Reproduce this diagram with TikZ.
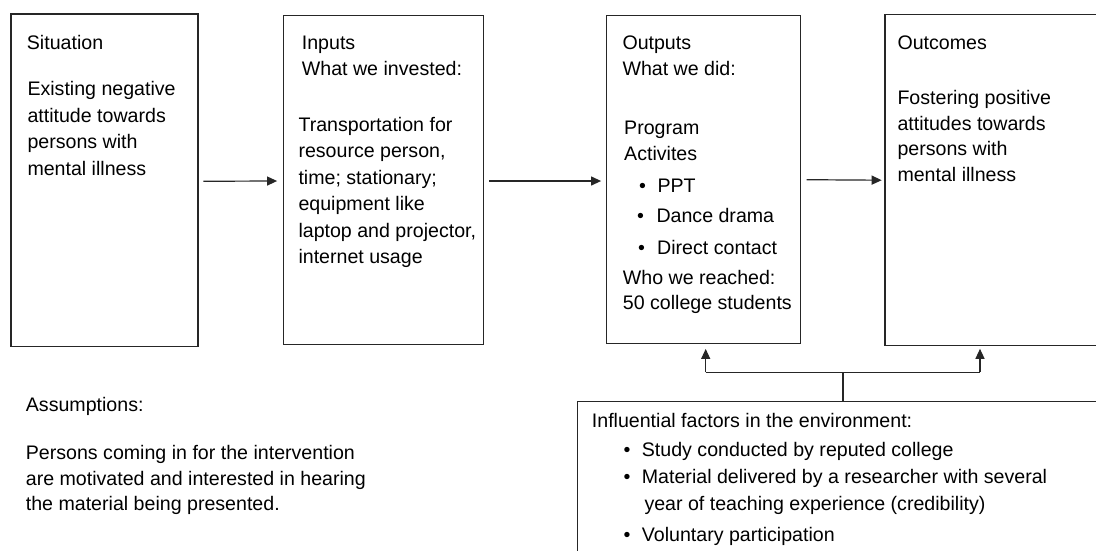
\documentclass[tikz,border=0pt]{standalone}
\usepackage{fontspec}
\setmainfont{Liberation Sans}
\usetikzlibrary{arrows.meta}
\begin{document}
\begin{tikzpicture}[x=1pt,y=-1pt,
  txt/.style={anchor=base west, inner sep=0pt, font=\fontsize{19.6}{24}\selectfont, text=black},
  box/.style={draw=black!85, line width=1.2pt, inner sep=0pt},
  arr/.style={draw=black!85, line width=1.2pt, -{Triangle[length=10pt,width=9pt]}},
  ln/.style={draw=black!85, line width=1.2pt}]
\useasboundingbox (0,0) rectangle (1096,550);
\clip (0,0) rectangle (1096,550);
% boxes
\node[box, minimum width=187pt, minimum height=332.5pt] (sit) at (104.5,180.25) {};
\node[box, minimum width=200.4pt, minimum height=328.6pt] (inp) at (383.5,180) {};
\node[box, minimum width=194pt, minimum height=328pt] (out) at (703.7,179.7) {};
\node[box, minimum width=230pt, minimum height=331pt] (outc) at (1000,180.2) {};
\node[box, minimum width=537.3pt, minimum height=168.3pt] (inf) at (846.35,485.85) {};
% Situation text
\node[txt] (s0) at (26.7,49.3) {Situation};
\node[txt] (s1) at (27.3,95.3) {Existing negative};
\node[txt] (s2) at (27.3,122) {attitude towards};
\node[txt] (s3) at (27.3,148.7) {persons with};
\node[txt] (s4) at (27.3,175.3) {mental illness};
% Inputs text
\node[txt] (i0) at (301.7,49.3) {Inputs};
\node[txt] (i1) at (301.7,75.3) {What we invested:};
\node[txt] (i2) at (298.3,131) {Transportation for};
\node[txt] (i3) at (298.3,157) {resource person,};
\node[txt] (i4) at (298.3,184.3) {time; stationary;};
\node[txt] (i5) at (298.3,210.3) {equipment like};
\node[txt] (i6) at (298.3,237) {laptop and projector,};
\node[txt] (i7) at (298.3,263.7) {internet usage};
% Outputs text
\node[txt] (o0) at (622.3,49.3) {Outputs};
\node[txt] (o1) at (622.3,75.3) {What we did:};
\node[txt] (o2) at (624,134.3) {Program};
\node[txt] (o3) at (624,160) {Activites};
\node[txt] (o4b) at (639,192) {•};
\node[txt] (o4) at (657.3,192) {PPT};
\node[txt] (o5b) at (637,222.7) {•};
\node[txt] (o5) at (656.3,222.7) {Dance drama};
\node[txt] (o6b) at (638,254.3) {•};
\node[txt] (o6) at (657,254.3) {Direct contact};
\node[txt] (o7) at (622.7,284.3) {Who we reached:};
\node[txt] (o8) at (622.7,309.3) {50 college students};
% Outcomes text
\node[txt] (c0) at (897.3,49.3) {Outcomes};
\node[txt] (c1) at (897.3,104.3) {Fostering positive};
\node[txt] (c2) at (897.3,130) {attitudes towards};
\node[txt] (c3) at (897.3,155.3) {persons with};
\node[txt] (c4) at (897.3,181) {mental illness};
% Assumptions
\node[txt] (a0) at (25.7,411) {Assumptions:};
\node[txt] (a1) at (25.7,459.3) {Persons coming in for the intervention};
\node[txt] (a2) at (25.7,485.3) {are motivated and interested in hearing};
\node[txt] (a3) at (25.7,510.3) {the material being presented.};
% Influential factors
\node[txt] (f0) at (591.7,427.7) {Influential factors in the environment:};
\node[txt] (f1b) at (623.5,456) {•};
\node[txt] (f1) at (641.7,456) {Study conducted by reputed college};
\node[txt] (f2b) at (623.5,483.7) {•};
\node[txt] (f2) at (641.7,483.7) {Material delivered by a researcher with several};
\node[txt] (f3) at (644.3,510.3) {year of teaching experience (credibility)};
\node[txt] (f4b) at (623.5,541) {•};
\node[txt] (f4) at (641.7,541) {Voluntary participation};
% horizontal arrows
\draw[arr] ([xshift=4.7pt,yshift=-1pt]sit.east) -- ([xshift=-5.6pt,yshift=-1pt]inp.west);
\draw[arr] ([xshift=5pt,yshift=-1pt]inp.east) -- ([xshift=-5pt,yshift=-1.3pt]out.west);
\draw[arr] ([xshift=5.3pt]out.east) -- ([xshift=-2.7pt]outc.west);
% environment connectors
\coordinate (j) at (843,372.3);
\coordinate (jl) at (705.7,372.3);
\coordinate (jr) at (980,372.3);
\draw[ln] (inf.north -| j) -- (j);
\draw[ln] (jl) -- (jr);
\draw[arr] (jl) -- ([yshift=-4.6pt]out.south -| jl);
\draw[arr] (jr) -- ([yshift=-2.5pt]outc.south -| jr);
\end{tikzpicture}
\end{document}
